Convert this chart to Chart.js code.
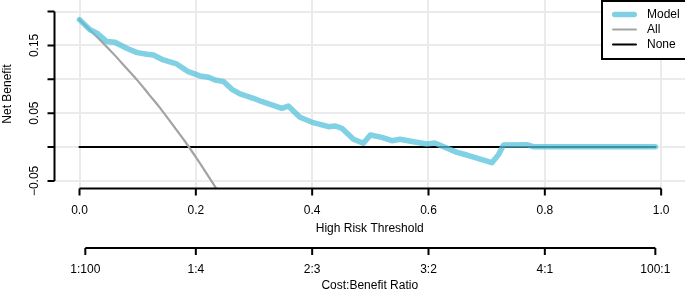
<!DOCTYPE html>
<html>
<head>
<meta charset="utf-8">
<script src="https://cdn.jsdelivr.net/npm/chart.js@4.4.1/dist/chart.umd.min.js"></script>
<style>
html, body { margin: 0; padding: 0; background: #fff; }
#wrap { width: 685px; height: 290px; }
</style>
</head>
<body>
<div id="wrap"><canvas id="dca" width="685" height="290"></canvas></div>
<script>
// decision curve: model vs treat-all vs treat-none
const modelX = [0, 0.018, 0.030, 0.047, 0.061, 0.081, 0.099, 0.116, 0.127, 0.144, 0.167, 0.187, 0.207, 0.222, 0.233, 0.248,
  0.262, 0.276, 0.299, 0.314, 0.328, 0.348, 0.359, 0.379, 0.402, 0.428, 0.440, 0.451, 0.471, 0.488, 0.500, 0.520,
  0.537, 0.551, 0.574, 0.597, 0.611, 0.626, 0.649, 0.666, 0.709, 0.720, 0.729, 0.769, 0.780, 0.990];
const modelY = [0.188, 0.173, 0.168, 0.1556, 0.1547, 0.1458, 0.1393, 0.1369, 0.1359, 0.1285, 0.1226, 0.1112, 0.1049, 0.1029, 0.099, 0.0965,
  0.0852, 0.0783, 0.0719, 0.0669, 0.063, 0.0571, 0.0606, 0.0439, 0.0359, 0.030, 0.031, 0.0276, 0.0114, 0.0055, 0.0177, 0.0143,
  0.0093, 0.0114, 0.0078, 0.0044, 0.006, 0.0004, -0.0079, -0.0118, -0.0232, -0.0118, 0.003, 0.0034, 0.0004, 0.0004];
const allX = [0, 0.02, 0.04, 0.06, 0.08, 0.10, 0.12, 0.14, 0.16, 0.18, 0.20, 0.22, 0.24, 0.26];
const allY = [0.188, 0.171, 0.154, 0.136, 0.117, 0.098, 0.077, 0.056, 0.033, 0.010, -0.015, -0.041, -0.068, -0.097];
const noneX = [0, 0.99];
const noneY = [0, 0];

const xTicks = [0, 0.2, 0.4, 0.6, 0.8, 1];
const xTickLabels = ['0.0', '0.2', '0.4', '0.6', '0.8', '1.0'];
const yTicks = [-0.05, 0, 0.05, 0.1, 0.15, 0.2];
const yTickLabels = ['\u22120.05', '', '0.05', '', '0.15', ''];
const cbTicks = [0.01, 0.2, 0.4, 0.6, 0.8, 0.99];
const cbLabels = ['1:100', '1:4', '2:3', '3:2', '4:1', '100:1'];

const FONT = '12px "Liberation Sans", Arial, Helvetica, sans-serif';

function pts(xs, ys) {
  return xs.map((v, i) => ({ x: v, y: ys[i] }));
}

const rAxes = {
  id: 'rAxes',
  afterDraw(chart) {
    const { ctx, chartArea: a, scales: { x, y } } = chart;
    ctx.save();
    ctx.strokeStyle = '#000';
    ctx.fillStyle = '#000';
    ctx.lineWidth = 2;
    ctx.font = FONT;
    ctx.lineCap = 'butt';

    // left axis
    const ax = a.left;
    ctx.beginPath();
    ctx.moveTo(ax, y.getPixelForValue(yTicks[yTicks.length - 1]));
    ctx.lineTo(ax, y.getPixelForValue(yTicks[0]));
    yTicks.forEach(v => {
      const py = y.getPixelForValue(v);
      ctx.moveTo(ax, py);
      ctx.lineTo(ax - 7, py);
    });
    ctx.stroke();
    ctx.textAlign = 'center';
    ctx.textBaseline = 'middle';
    yTicks.forEach((v, i) => {
      if (!yTickLabels[i]) return;
      ctx.save();
      ctx.translate(34.5, y.getPixelForValue(v));
      ctx.rotate(-Math.PI / 2);
      ctx.fillText(yTickLabels[i], 0, 0);
      ctx.restore();
    });
    ctx.save();
    ctx.translate(8, (a.top + a.bottom) / 2);
    ctx.rotate(-Math.PI / 2);
    ctx.fillText('Net Benefit', 0, 0);
    ctx.restore();

    // bottom axis: threshold
    const by = a.bottom + 0.5;
    ctx.beginPath();
    ctx.moveTo(x.getPixelForValue(xTicks[0]), by);
    ctx.lineTo(x.getPixelForValue(xTicks[xTicks.length - 1]), by);
    xTicks.forEach(v => {
      const px = x.getPixelForValue(v);
      ctx.moveTo(px, by);
      ctx.lineTo(px, by + 7);
    });
    ctx.stroke();
    xTicks.forEach((v, i) => ctx.fillText(xTickLabels[i], x.getPixelForValue(v), 211));
    const midX = (a.left + a.right) / 2;
    ctx.fillText('High Risk Threshold', midX, 228.5);

    // second axis: cost:benefit
    const cy = 248;
    ctx.beginPath();
    ctx.moveTo(x.getPixelForValue(cbTicks[0]), cy);
    ctx.lineTo(x.getPixelForValue(cbTicks[cbTicks.length - 1]), cy);
    cbTicks.forEach(v => {
      const px = x.getPixelForValue(v);
      ctx.moveTo(px, cy);
      ctx.lineTo(px, cy + 7);
    });
    ctx.stroke();
    cbTicks.forEach((v, i) => ctx.fillText(cbLabels[i], x.getPixelForValue(v), 269.5));
    ctx.fillText('Cost:Benefit Ratio', midX, 286);

    // legend
    ctx.fillStyle = '#fff';
    ctx.fillRect(602, 1, 100, 58);
    ctx.strokeStyle = '#000';
    ctx.lineWidth = 2;
    ctx.strokeRect(602, 1, 100, 58);
    ctx.textAlign = 'left';
    chart.data.datasets.forEach((ds, i) => {
      const ly = 14.5 + i * 15;
      ctx.beginPath();
      ctx.strokeStyle = ds.legendColor;
      ctx.lineWidth = ds.borderWidth;
      ctx.lineCap = 'round';
      ctx.moveTo(612 + ds.borderWidth / 2, ly);
      ctx.lineTo(637 - ds.borderWidth / 2, ly);
      ctx.stroke();
      ctx.fillStyle = '#000';
      ctx.fillText(ds.label, 647, ly + 0.5);
    });
    ctx.restore();
  }
};

new Chart(document.getElementById('dca'), {
  type: 'line',
  data: {
    datasets: [
      { label: 'Model', data: pts(modelX, modelY), borderColor: 'rgba(84,194,218,0.75)', legendColor: 'rgb(126,208,226)', borderWidth: 5.5 },
      { label: 'All', data: pts(allX, allY), borderColor: '#a3a3a3', legendColor: '#a3a3a3', borderWidth: 2.2, clip: 0, cubicInterpolationMode: 'monotone' },
      { label: 'None', data: pts(noneX, noneY), borderColor: '#000', legendColor: '#000', borderWidth: 2.2 }
    ]
  },
  options: {
    responsive: false,
    animation: false,
    devicePixelRatio: 1,
    layout: { padding: { left: 54.5, right: 0, top: 0, bottom: 102 } },
    elements: {
      point: { radius: 0 },
      line: { tension: 0, borderCapStyle: 'round', borderJoinStyle: 'round', fill: false }
    },
    plugins: { legend: { display: false }, tooltip: { enabled: false } },
    scales: {
      x: {
        type: 'linear', min: -0.043, max: 1.041,
        afterBuildTicks: s => { s.ticks = xTicks.map(v => ({ value: v })); },
        afterFit: s => { s.height = 0; },
        grid: { color: '#ebebeb', lineWidth: 2, drawTicks: false },
        border: { display: false },
        ticks: { display: false }
      },
      y: {
        type: 'linear', min: -0.0605, max: 0.217,
        afterBuildTicks: s => { s.ticks = yTicks.map(v => ({ value: v })); },
        afterFit: s => { s.width = 0; },
        grid: { color: '#ebebeb', lineWidth: 2, drawTicks: false },
        border: { display: false },
        ticks: { display: false }
      }
    }
  },
  plugins: [rAxes]
});
</script>
</body>
</html>
